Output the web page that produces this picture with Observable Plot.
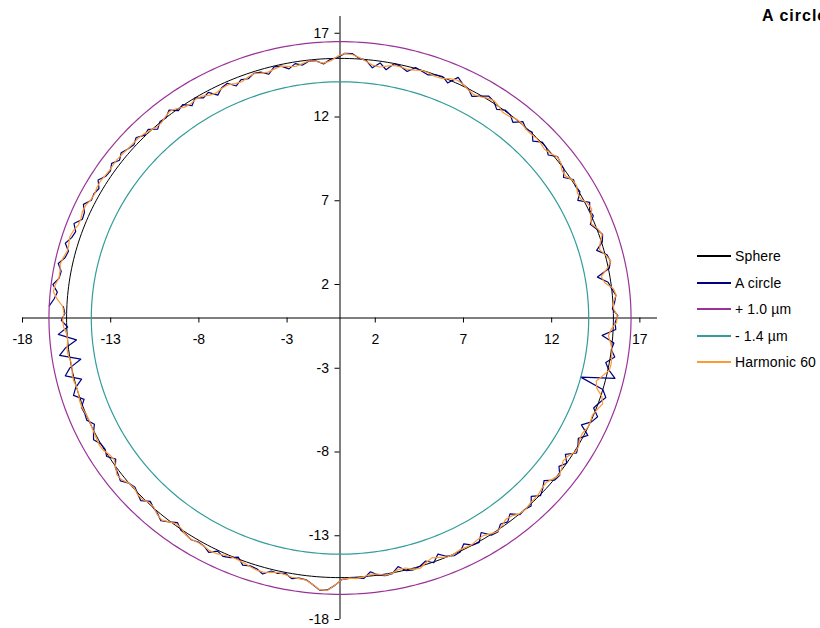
<!DOCTYPE html>
<html>
<head>
<meta charset="utf-8">
<script src="https://cdn.jsdelivr.net/npm/d3@7"></script>
<script src="https://cdn.jsdelivr.net/npm/@observablehq/plot@0.6"></script>
<style>
  body { margin: 0; background: #fff; font-family: "Liberation Sans", Arial, sans-serif; }
  #wrap { position: relative; width: 820px; height: 628px; overflow: hidden; }
  #title { position: absolute; left: 762px; top: 7px; font-weight: bold; font-size: 16px; letter-spacing: 1px; white-space: nowrap; color: #000; }
  #legend { position: absolute; left: 697px; top: 243px; font-size: 14px; letter-spacing: 0.15px; color: #000; }
  .row { display: flex; align-items: center; height: 26.5px; white-space: nowrap; }
  .swatch { width: 34px; height: 2px; margin-right: 4px; }
  #chart { position: absolute; left: 0; top: 0; }
</style>
</head>
<body>
<div id="wrap">
  <div id="chart"></div>
  <div id="title">A circle</div>
  <div id="legend"></div>
</div>
<script>
// Axis ticks (both axes share the same values)
const xTicks = [-18, -13, -8, -3, 2, 7, 12, 17];
const yTicks = [-18, -13, -8, -3, 2, 7, 12, 17];

// Reference sphere and the tolerance band around it (µm)
const sphereRadius = 15.5;
const bandOffsets = [1.0, -1.4];
const harmonicOrder = 60;

// Measured profile: radial deviation from the sphere, one sample every 1.5°,
// starting at 177.5° and running counter-clockwise once round (last sample
// lands back on the start angle).
const startAngle = 177.5;
const angleStep = 1.5;
const deviation = [
  // 177.5° – 200°
  0.2, 0.1, 0.3, -0.05, 0.5, -0.5, 0.15, 0.55, -0.6, 0.1, 0.45, -0.4, 0.05, 0.3, -0.2, 0.1,
  // 201.5° – 237.5°
  0.05, 0.1, -0.2, 0.05, 0.25, 0, -0.05, 0.1, -0.25, 0.05, 0.15, 0.3, 0, -0.1, 0.05, 0.2,
  -0.15, 0, 0.1, 0.3, 0.05, -0.2, 0.05, 0.1, 0.2,
  // 239° – 272.5°
  0.1, 0.15, 0.35, 0.05, 0.2, 0.1, -0.1, 0.25, 0.15, 0.2, 0.4, 0.1, 0.15, 0.05, 0.3, 0.2,
  0.25, 0.5, 0.8, 0.75, 0.45, 0.1, 0.05,
  // 274° – 357.5°
  0.05, 0.1, -0.25, 0, 0.1, 0.05, -0.3, 0.05, 0.1, 0,
  -0.2, 0.05, -0.35, -0.05, 0.1, 0.05, -0.3, 0, 0.05, -0.4,
  0.05, 0.1, -0.2, -0.05, -0.35, 0.05, 0, 0.1, -0.3, 0.05,
  -0.15, -0.4, 0.05, 0.1, -0.25, 0, -0.35, 0.15, 0, -0.2,
  0.2, -0.4, 0.05, 0.25, -0.15, 0.05, 0.3,
  0, -1.4, 0.5, 0.05, -0.2, 0.25, 0, 0.1, -0.6, 0.15,
  // 359° – 447.5°
  0.1, 0.25, -0.05, 0.1, 0.2, 0, -0.15, -0.7, 0.05, 0.2,
  0.1, -0.4, 0.05, 0.2, 0, -0.25, 0.1, 0.05, 0.25, -0.3,
  0.05, 0, 0.1, -0.3, 0, 0.05, 0.15, -0.2, 0, 0.05,
  -0.3, 0.05, -0.05, 0.15, -0.25, 0, 0.05, -0.2, 0.1, 0.2,
  -0.05, -0.3, 0, 0.1, 0.35, -0.2, 0.05, 0, -0.15, -0.05,
  0.05, -0.3, -0.1, 0, -0.45, -0.1, -0.45, -0.05, 0.05, 0.3,
  // 449° – 537.5°
  0.3, 0.05, -0.05, -0.3, -0.1, -0.05, -0.25, -0.1, -0.35, -0.1,
  -0.05, -0.4, -0.15, -0.1, -0.3, -0.2, -0.45, -0.1, -0.2, -0.5,
  -0.1, -0.25, 0, -0.3, 0.05, -0.1, 0.25, 0, 0.05, -0.2,
  0.15, 0.05, 0.3, 0.1, 0.2, 0.35, 0.15, 0.4, 0.2, 0.25,
  0.5, 0.2, 0.3, 0.25, 0.55, 0.3, 0.25, 0.6, 0.35, 0.45,
  0.7, 0.4, 0.5, 0.8, 0.55, 0.6, 0.9, 0.6, 0.75, 1.0
];

// Series names and colours, in legend order
const bandLabel = (o) => (o >= 0 ? "+ " : "- ") + Math.abs(o).toFixed(1) + " µm";
const seriesNames = ["Sphere", "A circle", bandLabel(bandOffsets[0]), bandLabel(bandOffsets[1]), "Harmonic " + harmonicOrder];
const seriesColors = ["#000000", "#000080", "#993399", "#339c9c", "#ff9933"];

const rad = Math.PI / 180;

// Full circle of a given radius, 1° per vertex
const circlePoints = (r) => d3.range(0, 361).map((a) => ({x: r * Math.cos(a * rad), y: r * Math.sin(a * rad)}));

// Measured trace in x/y
const trace = deviation.map((d, i) => {
  const a = (startAngle + angleStep * i) * rad;
  const r = sphereRadius + d;
  return {x: r * Math.cos(a), y: r * Math.sin(a)};
});

// Fourier reconstruction of the profile up to the given harmonic
const N = Math.round(360 / angleStep);
const phi = d3.range(N).map((i) => (startAngle + angleStep * i) * rad);
const samples = deviation.slice(0, N);
const a0 = d3.mean(samples);
const coef = d3.range(1, harmonicOrder + 1).map((k) => ({
  k,
  a: (2 / N) * d3.sum(samples, (d, i) => d * Math.cos(k * phi[i])),
  b: (2 / N) * d3.sum(samples, (d, i) => d * Math.sin(k * phi[i]))
}));
const harmonic = d3.range(N + 1).map((i) => {
  const p = phi[i % N];
  const h = a0 + d3.sum(coef, (c) => c.a * Math.cos(c.k * p) + c.b * Math.sin(c.k * p));
  const r = sphereRadius + h;
  return {x: r * Math.cos(p), y: r * Math.sin(p)};
});

const chart = Plot.plot({
  width: 820,
  height: 628,
  marginLeft: 22,
  marginRight: 163,
  marginTop: 16,
  marginBottom: 9,
  x: {domain: [-18, 18], axis: null},
  y: {domain: [-18, 18], axis: null},
  style: {fontFamily: "'Liberation Sans', Arial, sans-serif", fontSize: "14px", color: "#000", background: "transparent"},
  marks: [
    // axes crossing at the origin
    Plot.ruleY([0], {stroke: "#000"}),
    Plot.ruleX([0], {stroke: "#000"}),
    Plot.ruleX(xTicks, {x: (d) => d, y1: 0, y2: 0, insetBottom: -5, stroke: "#000"}),
    Plot.ruleY(yTicks, {y: (d) => d, x1: 0, x2: 0, insetLeft: -5, stroke: "#000"}),
    Plot.text(xTicks, {x: (d) => d, y: 0, dy: 22, text: (d) => String(d), fill: "#000"}),
    Plot.text(yTicks, {x: 0, y: (d) => d, dx: -11, textAnchor: "end", text: (d) => String(d), fill: "#000"}),
    // series
    Plot.line(circlePoints(sphereRadius), {x: "x", y: "y", stroke: seriesColors[0], strokeWidth: 1}),
    Plot.line(trace, {x: "x", y: "y", stroke: seriesColors[1], strokeWidth: 1.2}),
    Plot.line(circlePoints(sphereRadius + bandOffsets[0]), {x: "x", y: "y", stroke: seriesColors[2], strokeWidth: 1.2}),
    Plot.line(circlePoints(sphereRadius + bandOffsets[1]), {x: "x", y: "y", stroke: seriesColors[3], strokeWidth: 1.2}),
    Plot.line(harmonic, {x: "x", y: "y", stroke: seriesColors[4], strokeWidth: 1.2})
  ]
});
document.getElementById("chart").appendChild(chart);

// Legend
const legend = d3.select("#legend");
seriesNames.forEach((name, i) => {
  const row = legend.append("div").attr("class", "row");
  row.append("div").attr("class", "swatch").style("background", seriesColors[i]);
  row.append("span").text(name);
});
</script>
</body>
</html>
